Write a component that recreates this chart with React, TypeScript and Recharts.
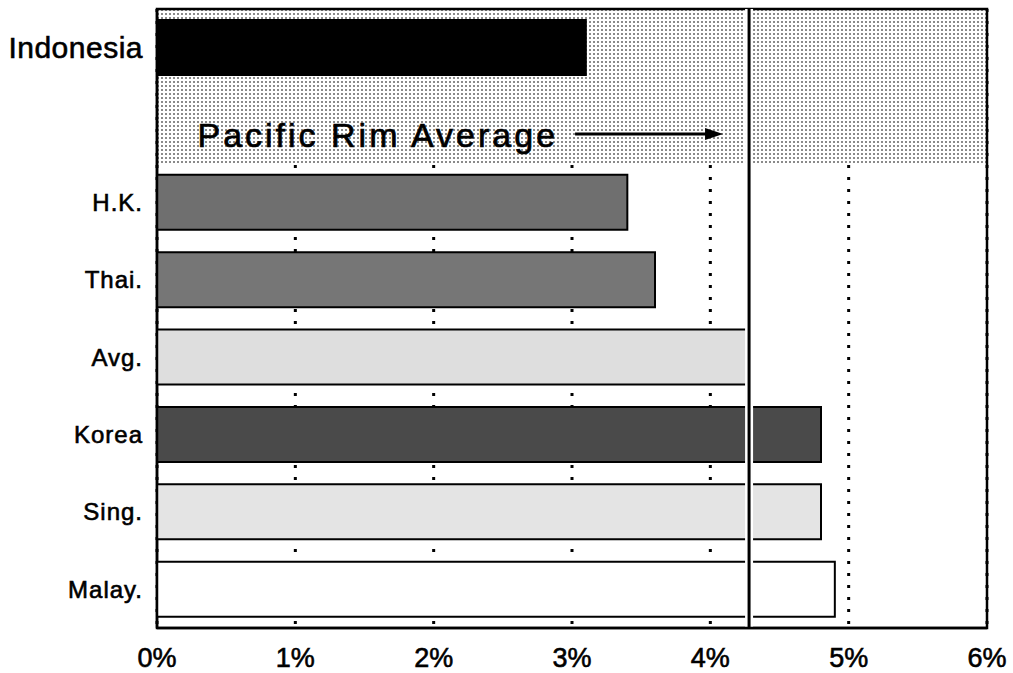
import React from 'react';
import { BarChart, Bar, XAxis, YAxis, CartesianGrid, ReferenceLine, ReferenceArea, Cell } from 'recharts';

// rows top to bottom; the blank row holds the "Pacific Rim Average" note
const categories = ['Indonesia', '', 'H.K.', 'Thai.', 'Avg.', 'Korea', 'Sing.', 'Malay.'];
const rates = [3.1, null, 3.4, 3.6, 4.28, 4.8, 4.8, 4.9];
const xTicks = [0, 1, 2, 3, 4, 5, 6];
const pacificRimAverage = 4.28;

const data = categories.map((name, i) => ({ name, rate: rates[i] }));

const fills: Record<string, string> = {
  Indonesia: '#000000',
  'H.K.': '#6f6f6f',
  'Thai.': '#767676',
  'Avg.': '#dedede',
  Korea: '#4a4a4a',
  'Sing.': '#e4e4e4',
  'Malay.': '#ffffff',
};

const FONT = '"Liberation Sans", Arial, sans-serif';

const YTick = (props: any) => {
  const { x, y, payload } = props;
  const big = payload.value === 'Indonesia';
  return (
    <text
      x={x}
      y={y}
      textAnchor="end"
      dominantBaseline="central"
      fontFamily={FONT}
      fontSize={big ? 30 : 24}
      letterSpacing={big ? 0.5 : 1}
      fill="#000"
      stroke="#000"
      strokeWidth={0.6}
    >
      {payload.value}
    </text>
  );
};

const XTick = (props: any) => {
  const { x, y, payload } = props;
  return (
    <text
      x={x}
      y={y}
      dy="0.71em"
      textAnchor="middle"
      fontFamily={FONT}
      fontSize={27}
      fill="#000"
      stroke="#000"
      strokeWidth={0.6}
    >
      {`${payload.value}%`}
    </text>
  );
};

const AverageNote = (props: any) => {
  const { viewBox } = props;
  if (!viewBox) return null;
  const { x, y, height } = viewBox;
  const rowCenter = y + (height * 1.5) / categories.length;
  const arrowY = rowCenter + 9;
  return (
    <g>
      <text
        x={x - 191}
        y={rowCenter + 22}
        textAnchor="end"
        fontFamily={FONT}
        fontSize={34}
        letterSpacing={3}
        fill="#000"
        stroke="#000"
        strokeWidth={0.7}
      >
        Pacific Rim Average
      </text>
      <line x1={x - 174} y1={arrowY} x2={x - 40} y2={arrowY} stroke="#000" strokeWidth={3} />
      <polygon points={`${x - 26},${arrowY} ${x - 44},${arrowY - 6} ${x - 44},${arrowY + 6}`} fill="#000" />
    </g>
  );
};

export default function App() {
  return (
    <div style={{ position: 'fixed', left: 0, top: 0, background: '#fff' }}>
      <BarChart
        width={1013}
        height={673}
        data={data}
        layout="vertical"
        margin={{ top: 9, right: 26, bottom: 0, left: 0 }}
        barSize={55}
      >
        <defs>
          <pattern id="screen" width="4" height="4" patternUnits="userSpaceOnUse">
            <rect x="0" y="0" width="4" height="4" fill="#ffffff" />
            <rect x="1" y="1" width="2" height="2" fill="#8a8a8a" />
          </pattern>
        </defs>
        <ReferenceArea y1="Indonesia" y2="" x1={0} x2={6} fill="url(#screen)" fillOpacity={1} stroke="none" />
        <CartesianGrid
          horizontal={false}
          stroke="#000"
          strokeWidth={3}
          strokeDasharray="3 9"
        />
        <XAxis
          type="number"
          domain={[0, 6]}
          ticks={xTicks}
          height={45}
          axisLine={{ stroke: '#000', strokeWidth: 2.5 }}
          tickLine={false}
          tickSize={0}
          tickMargin={20}
          tick={<XTick />}
        />
        <YAxis
          type="category"
          dataKey="name"
          width={157}
          axisLine={{ stroke: '#000', strokeWidth: 2.5 }}
          tickLine={false}
          tickSize={0}
          tickMargin={14}
          tick={<YTick />}
          interval={0}
        />
        <Bar dataKey="rate" stroke="#000" strokeWidth={2} isAnimationActive={false}>
          {data.map((d) => (
            <Cell key={d.name || 'blank'} fill={fills[d.name] || 'none'} />
          ))}
        </Bar>
        <ReferenceLine x={pacificRimAverage} stroke="#fff" strokeWidth={8} />
        <ReferenceLine x={pacificRimAverage} stroke="#000" strokeWidth={3} label={<AverageNote />} />
        <ReferenceArea x1={0} x2={6} fill="none" stroke="#000" strokeWidth={2.5} />
      </BarChart>
    </div>
  );
}
